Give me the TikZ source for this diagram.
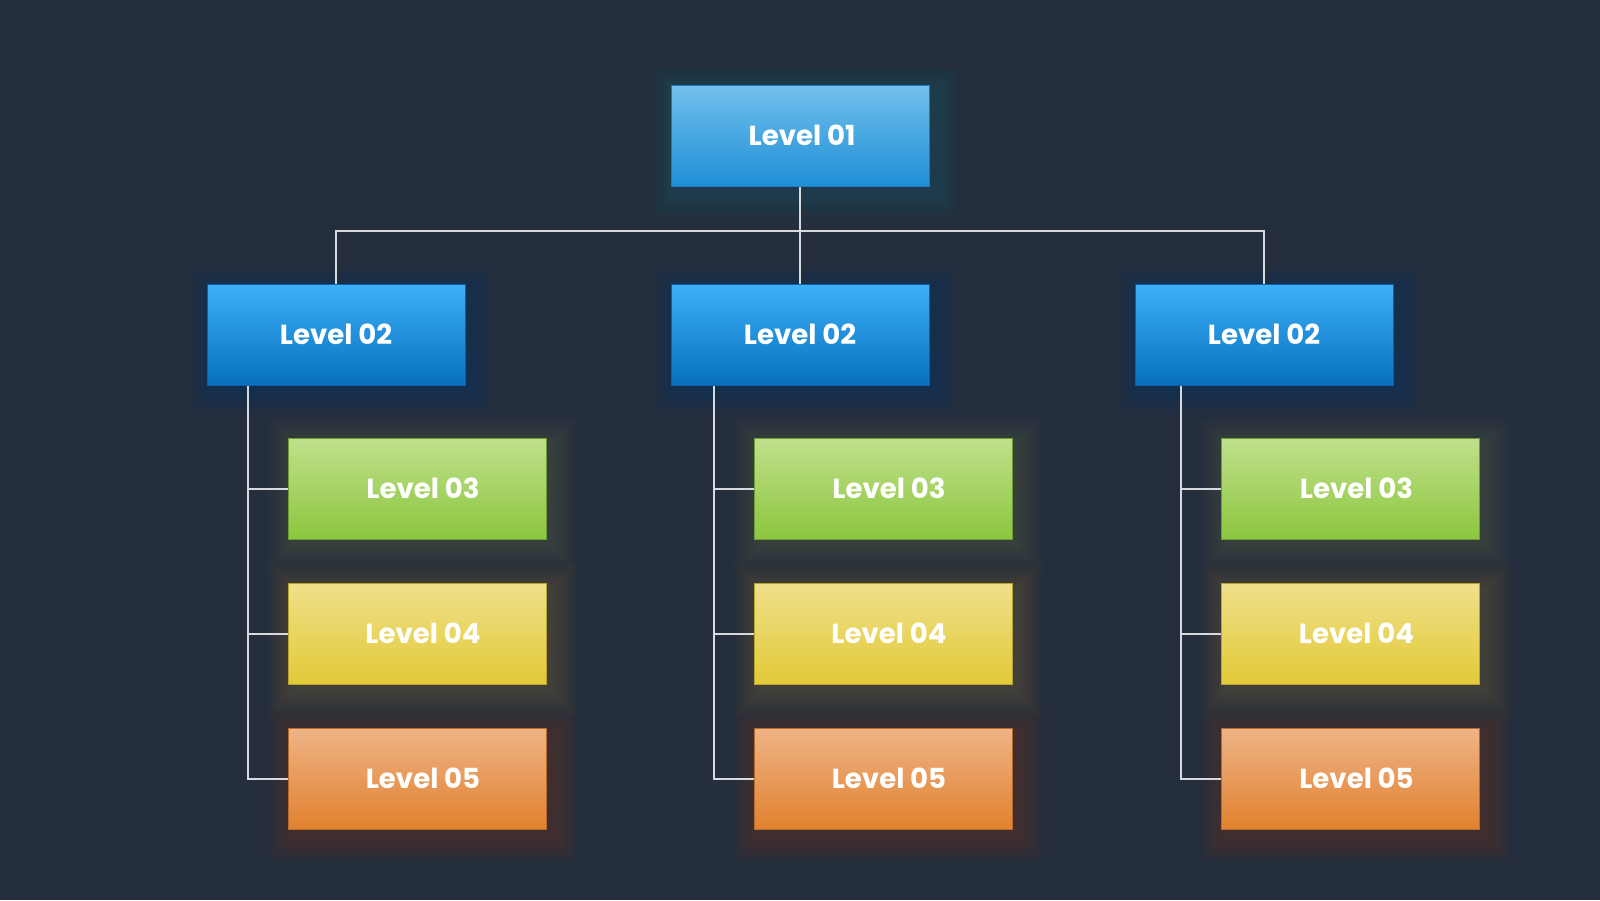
\documentclass[tikz,border=0pt]{standalone}
\usepackage{fontspec}
\setmainfont{Poppins}
\pgfdeclarelayer{bg}
\pgfdeclarelayer{glow}
\pgfsetlayers{bg,glow,main}
\definecolor{bgc}{HTML}{252E3C}
\definecolor{lnc}{HTML}{D6D9DE}
\definecolor{aT}{HTML}{72C0EC}\definecolor{aB}{HTML}{1E8FD6}\definecolor{aD}{HTML}{1C7CBB}
\definecolor{bT}{HTML}{3EB0F8}\definecolor{bB}{HTML}{0670BF}\definecolor{bD}{HTML}{0A62A6}
\definecolor{cT}{HTML}{C0E08C}\definecolor{cB}{HTML}{8CC63E}\definecolor{cD}{HTML}{6E9E34}
\definecolor{dT}{HTML}{F0E08A}\definecolor{dB}{HTML}{E2CA38}\definecolor{dD}{HTML}{B9A430}
\definecolor{eT}{HTML}{EFB486}\definecolor{eB}{HTML}{E1812F}\definecolor{eD}{HTML}{B76A2A}
\tikzset{
  lvbox/.style n args={3}{rectangle, inner sep=0pt, minimum width=129pt, minimum height=50.5pt,
    top color=#1, bottom color=#2, draw=#3, line width=0.5pt,
    text=white, font=\fontsize{13.8}{16}\selectfont\bfseries},
  lvone/.style={lvbox={aT}{aB}{aD}, execute at begin node=\hspace*{2pt}},
  lvtwo/.style={lvbox={bT}{bB}{bD}},
  lvthree/.style={lvbox={cT}{cB}{cD}, execute at begin node=\hspace*{6pt}},
  lvfour/.style={lvbox={dT}{dB}{dD}, execute at begin node=\hspace*{6pt}},
  lvfive/.style={lvbox={eT}{eB}{eD}, execute at begin node=\hspace*{6pt}},
  conn/.style={draw=lnc, line width=1pt},
}
\newcommand\boxglow[2]{%
  \begin{pgfonlayer}{glow}
  \foreach \k in {1,2.5,...,26}{
    \fill[#2, opacity=0.012]
      ([shift={(-\k+5,-\k+6)}]#1.north west) rectangle ([shift={(\k+5,\k+6)}]#1.south east);
  }
  \end{pgfonlayer}}
\begin{document}
\begin{tikzpicture}[x=0.5pt,y=-0.5pt]
\begin{pgfonlayer}{bg}
\fill[bgc] (0,0) rectangle (1600,900);
\end{pgfonlayer}
\useasboundingbox (0,0) rectangle (1600,900);

\node[lvone] (l1) at (800,135.5) {Level 01};

\node[lvtwo] (l2a) at (336,334.5) {Level 02};
\node[lvtwo] (l2b) at (800,334.5) {Level 02};
\node[lvtwo] (l2c) at (1264,334.5) {Level 02};

\node[lvthree] (l3a) at (417,488.5) {Level 03};
\node[lvthree] (l3b) at (883,488.5) {Level 03};
\node[lvthree] (l3c) at (1350.5,488.5) {Level 03};

\node[lvfour] (l4a) at (417,633.5) {Level 04};
\node[lvfour] (l4b) at (883,633.5) {Level 04};
\node[lvfour] (l4c) at (1350.5,633.5) {Level 04};

\node[lvfive] (l5a) at (417,778.5) {Level 05};
\node[lvfive] (l5b) at (883,778.5) {Level 05};
\node[lvfive] (l5c) at (1350.5,778.5) {Level 05};

\boxglow{l1}{aB}
\boxglow{l2a}{bB}\boxglow{l2b}{bB}\boxglow{l2c}{bB}
\boxglow{l3a}{cB}\boxglow{l3b}{cB}\boxglow{l3c}{cB}
\boxglow{l4a}{dB}\boxglow{l4b}{dB}\boxglow{l4c}{dB}
\boxglow{l5a}{eB}\boxglow{l5b}{eB}\boxglow{l5c}{eB}

\coordinate (hub) at (800,231);
\coordinate (ta) at (248,0);
\coordinate (tb) at (714,0);
\coordinate (tc) at (1181,0);

\draw[conn] (l1.south) -- (l2b.north);
\draw[conn] (l2a.north) |- (hub) -| (l2c.north);

\draw[conn] (l2a.south -| ta) |- (l5a.west);
\draw[conn] (l3a.west -| ta) -- (l3a.west);
\draw[conn] (l4a.west -| ta) -- (l4a.west);

\draw[conn] (l2b.south -| tb) |- (l5b.west);
\draw[conn] (l3b.west -| tb) -- (l3b.west);
\draw[conn] (l4b.west -| tb) -- (l4b.west);

\draw[conn] (l2c.south -| tc) |- (l5c.west);
\draw[conn] (l3c.west -| tc) -- (l3c.west);
\draw[conn] (l4c.west -| tc) -- (l4c.west);
\end{tikzpicture}
\end{document}
